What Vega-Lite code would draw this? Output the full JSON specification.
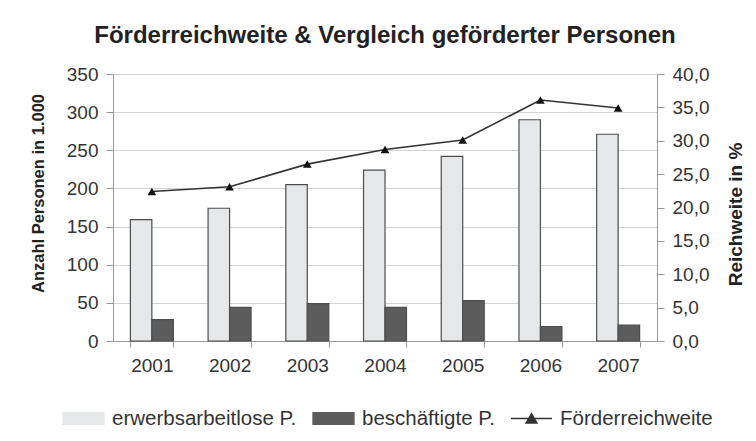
{
  "$schema": "https://vega.github.io/schema/vega-lite/v6.json",
  "autosize": "none",
  "width": 544,
  "height": 267,
  "padding": {"left": 113, "top": 74, "right": 99, "bottom": 100},
  "background": "#ffffff",
  "title": {
    "text": "Förderreichweite & Vergleich geförderter Personen",
    "font": "Liberation Sans",
    "fontSize": 24,
    "fontWeight": "bold",
    "color": "#222222",
    "anchor": "middle",
    "offset": 17
  },
  "config": {"view": {"stroke": null}, "font": "Liberation Sans"},
  "datasets": {
    "bars": [
      {"year": "2001", "series": "erwerbsarbeitlose P.", "value": 159},
      {"year": "2002", "series": "erwerbsarbeitlose P.", "value": 174},
      {"year": "2003", "series": "erwerbsarbeitlose P.", "value": 205},
      {"year": "2004", "series": "erwerbsarbeitlose P.", "value": 224},
      {"year": "2005", "series": "erwerbsarbeitlose P.", "value": 242},
      {"year": "2006", "series": "erwerbsarbeitlose P.", "value": 290},
      {"year": "2007", "series": "erwerbsarbeitlose P.", "value": 271},
      {"year": "2001", "series": "beschäftigte P.", "value": 28},
      {"year": "2002", "series": "beschäftigte P.", "value": 44},
      {"year": "2003", "series": "beschäftigte P.", "value": 49},
      {"year": "2004", "series": "beschäftigte P.", "value": 44},
      {"year": "2005", "series": "beschäftigte P.", "value": 53},
      {"year": "2006", "series": "beschäftigte P.", "value": 19},
      {"year": "2007", "series": "beschäftigte P.", "value": 21}
    ],
    "reach": [
      {"year": "2001", "reach": 22.4},
      {"year": "2002", "reach": 23.1},
      {"year": "2003", "reach": 26.5},
      {"year": "2004", "reach": 28.7},
      {"year": "2005", "reach": 30.1},
      {"year": "2006", "reach": 36.1},
      {"year": "2007", "reach": 34.9}
    ]
  },
  "layer": [
    {
      "data": {"name": "bars"},
      "mark": {"type": "bar", "stroke": "#4d4d4d", "strokeWidth": 1.2},
      "encoding": {
        "x": {
          "field": "year", "type": "nominal",
          "scale": {"paddingInner": 0.447, "paddingOuter": 0.2235},
          "axis": {
            "title": null, "labelAngle": 0, "labelFontSize": 19, "labelColor": "#333333",
            "labelPadding": 9, "tickBand": "extent", "tickSize": 6, "tickColor": "#999999",
            "domainColor": "#999999", "grid": false
          }
        },
        "xOffset": {
          "field": "series", "type": "nominal",
          "scale": {"domain": ["erwerbsarbeitlose P.", "beschäftigte P."], "paddingInner": 0, "paddingOuter": 0}
        },
        "y": {
          "field": "value", "type": "quantitative",
          "scale": {"domain": [0, 350], "nice": false},
          "axis": {
            "title": "Anzahl Personen in 1.000",
            "values": [0, 50, 100, 150, 200, 250, 300, 350],
            "grid": true, "gridColor": "#d3d3d3", "tickSize": 7, "tickColor": "#999999",
            "domainColor": "#999999", "labelFontSize": 19, "labelPadding": 8, "labelColor": "#333333",
            "titleFontSize": 16.5, "titleFontWeight": "bold", "titleColor": "#222222",
            "titleX": -75, "titleY": 119, "titleAngle": 270, "titleAlign": "center", "titleBaseline": "middle"
          }
        },
        "color": {
          "field": "series", "type": "nominal",
          "scale": {
            "domain": ["erwerbsarbeitlose P.", "beschäftigte P.", "Förderreichweite"],
            "range": ["#e6e7e9", "#5c5c5c", "#333333"]
          },
          "legend": {
            "title": null,
            "orient": "none",
            "legendX": -51,
            "legendY": 323,
            "direction": "horizontal",
            "labelFont": "Liberation Sans",
            "labelFontSize": 20.5,
            "labelColor": "#333333",
            "labelLimit": 400,
            "labelOffset": 7,
            "columnPadding": 13,
            "symbolSize": 1681,
            "symbolOpacity": 1,
            "symbolStrokeColor": "#444444",
            "symbolStrokeWidth": 1.3,
            "encode": {
              "symbols": {
                "update": {
                  "shape": {"signal": "datum.value === 'Förderreichweite' ? 'M-1,0H1M-0.27,0.22L0,-0.24L0.27,0.22Z' : 'M-1,-0.28H1V0.28H-1Z'"},
                  "fill": {"signal": "datum.value === 'erwerbsarbeitlose P.' ? '#e6e7e9' : (datum.value === 'beschäftigte P.' ? '#5c5c5c' : '#111111')"},
                  "stroke": {"value": "#444444"},
                  "strokeWidth": {"value": 1.3},
                  "fillOpacity": {"value": 1},
                  "strokeOpacity": {"value": 1},
                  "opacity": {"value": 1}
                }
              }
            }
          }
        }
      }
    },
    {
      "data": {"name": "reach"},
      "encoding": {
        "x": {"field": "year", "type": "nominal"},
        "y": {
          "field": "reach", "type": "quantitative",
          "scale": {"domain": [0, 40], "nice": false},
          "axis": {
            "orient": "right",
            "title": "Reichweite in %",
            "values": [0, 5, 10, 15, 20, 25, 30, 35, 40],
            "labelExpr": "replace(format(datum.value, '.1f'), '.', ',')",
            "grid": false, "tickSize": 7, "tickColor": "#999999", "domainColor": "#999999",
            "labelFontSize": 19, "labelPadding": 8, "labelColor": "#333333",
            "titleFontSize": 19, "titleFontWeight": "bold", "titleColor": "#222222",
            "titleX": 78, "titleY": 140, "titleAngle": 270, "titleAlign": "center", "titleBaseline": "middle"
          }
        }
      },
      "layer": [
        {
          "mark": {"type": "line", "strokeWidth": 1.6},
          "encoding": {
            "color": {
              "datum": "Förderreichweite",
              "legend": {
                "title": null,
                "orient": "none",
                "legendX": -51,
                "legendY": 323,
                "direction": "horizontal",
                "labelFont": "Liberation Sans",
                "labelFontSize": 20.5,
                "labelColor": "#333333",
                "labelLimit": 400,
                "labelOffset": 7,
                "columnPadding": 13,
                "symbolSize": 1681,
                "symbolOpacity": 1,
                "symbolStrokeColor": "#444444",
                "symbolStrokeWidth": 1.3,
                "encode": {
                  "symbols": {
                    "update": {
                      "shape": {"signal": "datum.value === 'Förderreichweite' ? 'M-1,0H1M-0.27,0.22L0,-0.24L0.27,0.22Z' : 'M-1,-0.28H1V0.28H-1Z'"},
                      "fill": {"signal": "datum.value === 'erwerbsarbeitlose P.' ? '#e6e7e9' : (datum.value === 'beschäftigte P.' ? '#5c5c5c' : '#111111')"},
                      "stroke": {"value": "#444444"},
                      "strokeWidth": {"value": 1.3},
                      "fillOpacity": {"value": 1},
                      "strokeOpacity": {"value": 1},
                      "opacity": {"value": 1}
                    }
                  }
                }
              }
            }
          }
        },
        {
          "mark": {"type": "point", "shape": "triangle-up", "filled": true, "color": "#111111", "size": 75, "opacity": 1}
        }
      ]
    }
  ],
  "resolve": {"scale": {"y": "independent"}}
}
